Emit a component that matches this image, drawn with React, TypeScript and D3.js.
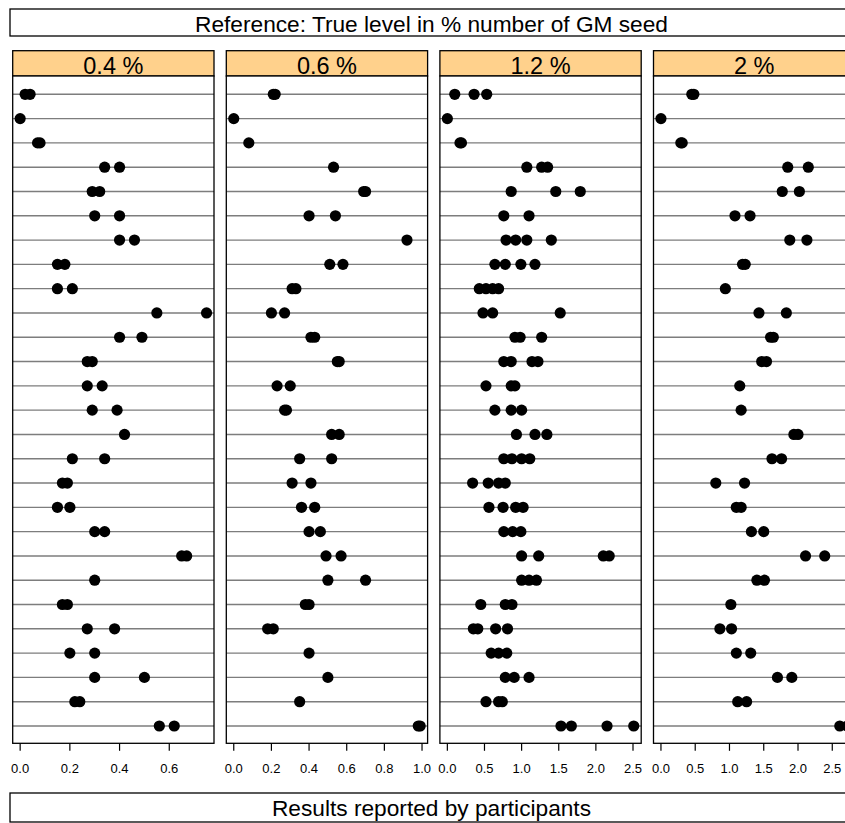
import React from "react";
import * as d3 from "d3";

const labs = [
  "L01", "L02", "L03", "L04", "L05", "L06", "L07", "L08", "L09",
  "L10", "L11", "L12", "L13", "L14", "L15", "L16", "L17", "L18",
  "L19", "L20", "L21", "L22", "L23", "L24", "L25", "L26", "L27",
];

const panelLabels = ["0.4 %", "0.6 %", "1.2 %", "2 %"];

const level04: number[][] = [
  [0.02, 0.04], [0], [0.07, 0.08], [0.34, 0.4], [0.29, 0.32], [0.3, 0.4],
  [0.4, 0.46], [0.15, 0.18], [0.15, 0.21], [0.55, 0.75], [0.4, 0.49],
  [0.27, 0.29], [0.27, 0.33], [0.29, 0.39], [0.42], [0.21, 0.34],
  [0.17, 0.19], [0.15, 0.2], [0.3, 0.34], [0.65, 0.67], [0.3],
  [0.17, 0.19], [0.27, 0.38], [0.2, 0.3], [0.3, 0.5], [0.22, 0.24],
  [0.56, 0.62],
];

const level06: number[][] = [
  [0.21, 0.22], [0], [0.08], [0.53], [0.69, 0.7], [0.4, 0.54], [0.92],
  [0.51, 0.58], [0.31, 0.33], [0.2, 0.27], [0.41, 0.43], [0.55, 0.56],
  [0.23, 0.3], [0.27, 0.28], [0.52, 0.56], [0.35, 0.52], [0.31, 0.41],
  [0.36, 0.43], [0.4, 0.46], [0.49, 0.57], [0.5, 0.7], [0.38, 0.4],
  [0.18, 0.21], [0.4], [0.5], [0.35], [0.98, 0.99],
];

const level12: number[][] = [
  [0.1, 0.36, 0.53], [0], [0.17, 0.19], [1.07, 1.27, 1.35],
  [0.86, 1.46, 1.79], [0.76, 1.1], [0.79, 0.92, 1.07, 1.4],
  [0.64, 0.78, 0.99, 1.18], [0.43, 0.52, 0.61, 0.69], [0.48, 0.61, 1.52],
  [0.91, 0.98, 1.27], [0.76, 0.86, 1.14, 1.22], [0.52, 0.86, 0.91],
  [0.64, 0.86, 1.0], [0.93, 1.18, 1.34], [0.76, 0.87, 1.0, 1.11],
  [0.34, 0.55, 0.69, 0.78], [0.56, 0.75, 0.92, 1.02], [0.76, 0.88, 0.99],
  [1.0, 1.23, 2.1, 2.18], [1.0, 1.1, 1.2], [0.45, 0.78, 0.87],
  [0.35, 0.41, 0.65, 0.81], [0.59, 0.69, 0.8], [0.78, 0.9, 1.1],
  [0.52, 0.69, 0.74], [1.53, 1.67, 2.15, 2.51],
];

const level20: number[][] = [
  [0.45, 0.48], [0], [0.29, 0.31], [1.85, 2.15], [1.77, 2.02], [1.08, 1.3],
  [1.88, 2.13], [1.19, 1.23], [0.94], [1.43, 1.83], [1.6, 1.64],
  [1.47, 1.54], [1.15], [1.17], [1.94, 2.0], [1.62, 1.76], [0.8, 1.22],
  [1.1, 1.17], [1.32, 1.5], [2.11, 2.39], [1.4, 1.51], [1.02], [0.86, 1.03],
  [1.1, 1.31], [1.7, 1.91], [1.12, 1.25], [2.61, 2.72],
];

const ticks04 = [0, 0.2, 0.4, 0.6];
const ticks06 = [0, 0.2, 0.4, 0.6, 0.8, 1.0];
const ticks12 = [0, 0.5, 1.0, 1.5, 2.0, 2.5];
const ticks20 = [0, 0.5, 1.0, 1.5, 2.0, 2.5];

const titleTop = "Reference: True level in % number of GM seed";
const titleBottom = "Results reported by participants";

const panelData = [level04, level06, level12, level20];
const panelTicks = [ticks04, ticks06, ticks12, ticks20];

const FONT = "'Liberation Sans', Arial, Helvetica, sans-serif";

export default function App() {
  const W = 845;
  const H = 823;
  const panelLeft0 = 12.7;
  const panelStep = 213.6;
  const panelWidth = 201.3;
  const stripTop = 50.7;
  const stripBottom = 76;
  const panelBottom = 743.3;

  const y = d3.scalePoint<string>().domain(labs).range([94.3, 726]);

  return (
    <svg
      width={W}
      height={H}
      style={{ position: "absolute", left: 0, top: 0, background: "#fff" }}
      fontFamily={FONT}
    >
      <rect x={0} y={0} width={W} height={H} fill="#fff" />
      {/* top title box */}
      <rect x={10} y={9} width={843} height={27} fill="#fff" stroke="#000" strokeWidth={1.3} />
      <text x={431.5} y={31.5} textAnchor="middle" fontSize={22.7} fill="#000">
        {titleTop}
      </text>

      {panelData.map((rows, pi) => {
        const x0 = panelLeft0 + pi * panelStep;
        const x1 = x0 + panelWidth;
        const all = rows.flat();
        const ext = d3.extent(all) as [number, number];
        const pad = (ext[1] - ext[0]) * 0.04;
        const x = d3.scaleLinear().domain([ext[0] - pad, ext[1] + pad]).range([x0, x1]);
        return (
          <g key={pi}>
            {/* strip */}
            <rect x={x0} y={stripTop} width={panelWidth} height={stripBottom - stripTop} fill="#FFD18C" stroke="#000" strokeWidth={1.3} />
            <text x={(x0 + x1) / 2} y={74} textAnchor="middle" fontSize={23.5} fill="#000">
              {panelLabels[pi]}
            </text>
            {/* panel */}
            <rect x={x0} y={stripBottom} width={panelWidth} height={panelBottom - stripBottom} fill="#fff" />
            {labs.map((lab) => (
              <line key={lab} x1={x0} x2={x1} y1={y(lab)} y2={y(lab)} stroke="#7d7d7d" strokeWidth={1.4} />
            ))}
            {rows.map((vals, ri) =>
              vals.map((v, vi) => (
                <circle key={`${ri}-${vi}`} cx={x(v)} cy={y(labs[ri])} r={5.6} fill="#000" />
              ))
            )}
            <rect x={x0} y={stripBottom} width={panelWidth} height={panelBottom - stripBottom} fill="none" stroke="#000" strokeWidth={1.3} />
            {/* axis */}
            {panelTicks[pi].map((t) => (
              <g key={t}>
                <line x1={x(t)} x2={x(t)} y1={panelBottom} y2={panelBottom + 7.5} stroke="#000" strokeWidth={1.2} />
                <text x={x(t)} y={773.3} textAnchor="middle" fontSize={13} fill="#000">
                  {d3.format(".1f")(t)}
                </text>
              </g>
            ))}
          </g>
        );
      })}

      {/* bottom title box */}
      <rect x={10} y={793} width={843} height={29} fill="#fff" stroke="#000" strokeWidth={1.3} />
      <text x={431.5} y={815.5} textAnchor="middle" fontSize={22.7} fill="#000">
        {titleBottom}
      </text>
    </svg>
  );
}
